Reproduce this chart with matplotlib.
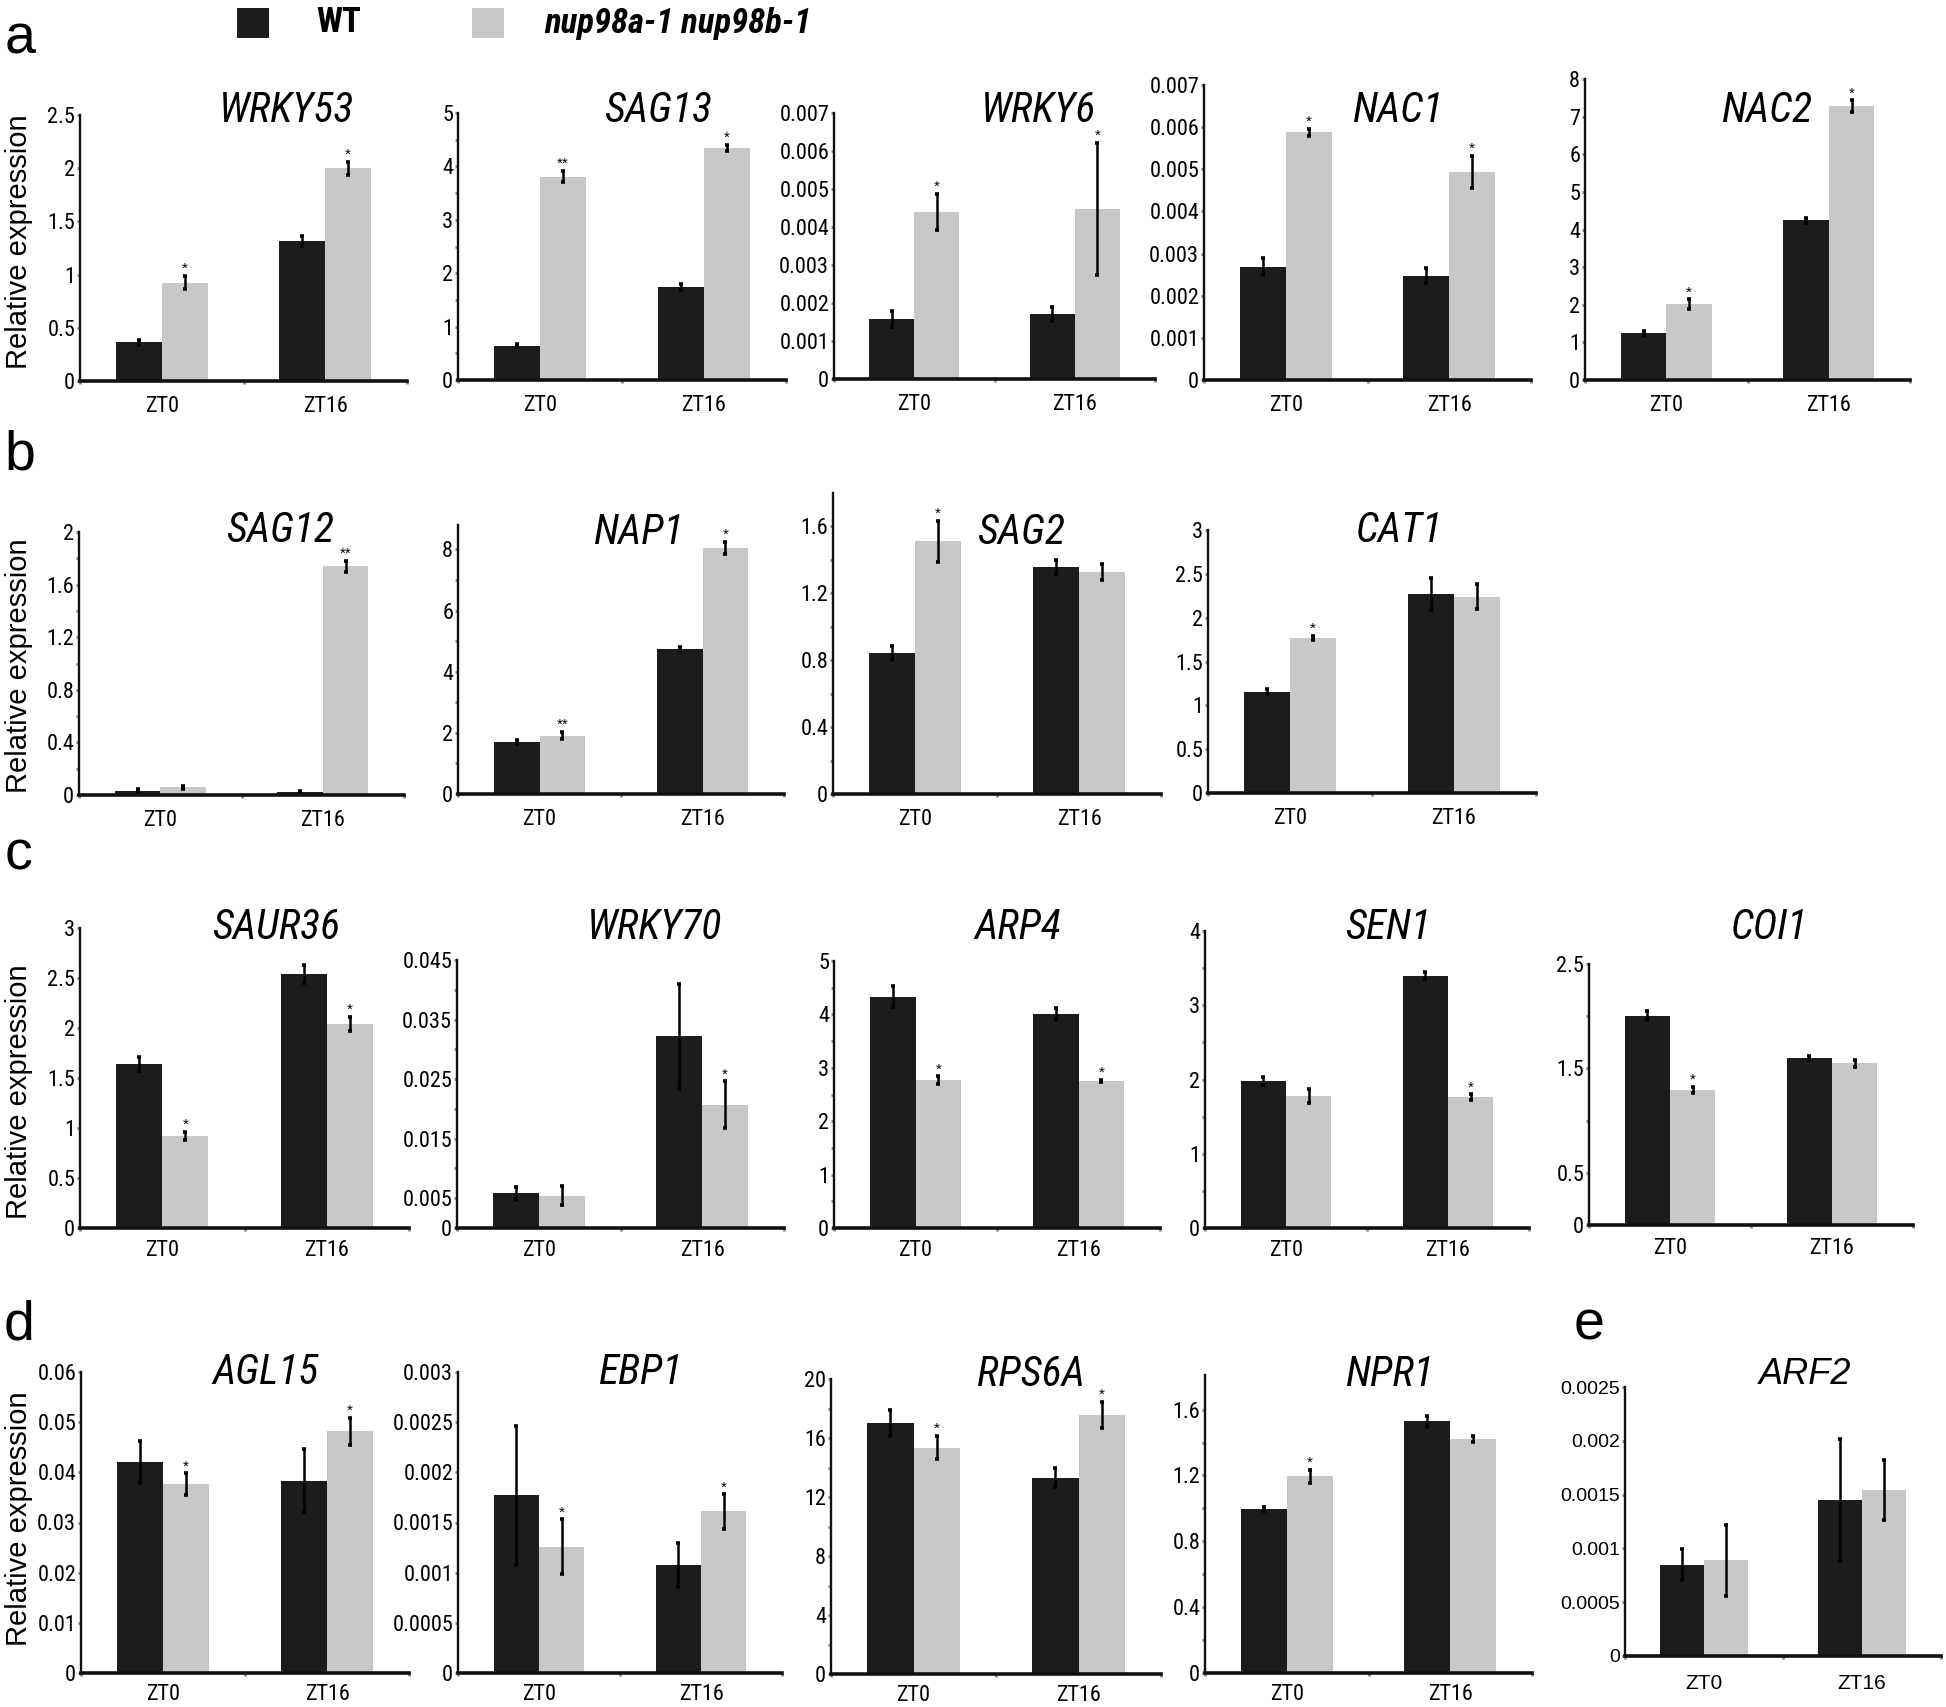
import matplotlib
matplotlib.use('Agg')
import matplotlib.pyplot as plt
from matplotlib import font_manager as fm
from matplotlib.patches import Rectangle
import numpy as np

# ---------------- data ----------------
genes = ['WRKY53', 'SAG13', 'WRKY6', 'NAC1', 'NAC2',
         'SAG12', 'NAP1', 'SAG2', 'CAT1',
         'SAUR36', 'WRKY70', 'ARP4', 'SEN1', 'COI1',
         'AGL15', 'EBP1', 'RPS6A', 'NPR1', 'ARF2']
timepoints = ['ZT0', 'ZT16']
series_names = ['WT', 'nup98a-1 nup98b-1']

wt_zt0 = [0.363, 0.64, 0.00157, 0.00269, 1.24, 0.033, 1.71, 0.843, 1.157,
          1.64, 0.00583, 4.33, 1.98, 2.006, 0.0421, 0.00177, 17.04, 0.996, 0.00085]
wt_zt0_err = [0.02, 0.03, 0.00021, 0.00021, 0.06, 0.01, 0.07, 0.04, 0.025,
              0.07, 0.0011, 0.2, 0.05, 0.04, 0.0042, 0.00069, 0.88, 0.015, 0.00014]
mut_zt0 = [0.924, 3.81, 0.0044, 0.00588, 2.01, 0.058, 1.91, 1.51, 1.77,
           0.92, 0.00544, 2.77, 1.78, 1.29, 0.0376, 0.00126, 15.35, 1.196, 0.00089]
mut_zt0_err = [0.063, 0.11, 0.00047, 0.00008, 0.13, 0.012, 0.11, 0.125, 0.025,
               0.04, 0.0016, 0.07, 0.09, 0.03, 0.0022, 0.00027, 0.79, 0.04, 0.00033]
wt_zt16 = [1.313, 1.74, 0.00171, 0.00247, 4.24, 0.023, 4.75, 1.358, 2.27,
           2.54, 0.0322, 4.01, 3.40, 1.596, 0.0383, 0.00108, 13.32, 1.529, 0.00145]
wt_zt16_err = [0.047, 0.06, 0.00019, 0.00018, 0.06, 0.01, 0.07, 0.043, 0.18,
               0.09, 0.0088, 0.11, 0.05, 0.02, 0.0063, 0.00022, 0.65, 0.033, 0.00057]
mut_zt16 = [2.0, 4.34, 0.00448, 0.00493, 7.27, 1.74, 8.06, 1.327, 2.24,
            2.04, 0.0207, 2.76, 1.76, 1.548, 0.0482, 0.00161, 17.56, 1.422, 0.00154]
mut_zt16_err = [0.06, 0.06, 0.00173, 0.00038, 0.16, 0.043, 0.2, 0.05, 0.14,
                0.07, 0.0039, 0.02, 0.04, 0.03, 0.0027, 0.00017, 0.9, 0.02, 0.00028]
sig_zt0 = ['*', '**', '*', '*', '*', '', '**', '*', '*',
           '*', '', '*', '', '*', '*', '*', '*', '*', '']
sig_zt16 = ['*', '*', '*', '*', '*', '**', '*', '', '',
            '*', '*', '*', '*', '', '*', '*', '*', '', '']

ytick_labels = {
    'WRKY53': ['0', '0.5', '1', '1.5', '2', '2.5'],
    'SAG13': ['0', '1', '2', '3', '4', '5'],
    'WRKY6': ['0', '0.001', '0.002', '0.003', '0.004', '0.005', '0.006', '0.007'],
    'NAC1': ['0', '0.001', '0.002', '0.003', '0.004', '0.005', '0.006', '0.007'],
    'NAC2': ['0', '1', '2', '3', '4', '5', '6', '7', '8'],
    'SAG12': ['0', '0.4', '0.8', '1.2', '1.6', '2'],
    'NAP1': ['0', '2', '4', '6', '8'],
    'SAG2': ['0', '0.4', '0.8', '1.2', '1.6'],
    'CAT1': ['0', '0.5', '1', '1.5', '2', '2.5', '3'],
    'SAUR36': ['0', '0.5', '1', '1.5', '2', '2.5', '3'],
    'WRKY70': ['0', '0.005', '0.015', '0.025', '0.035', '0.045'],
    'ARP4': ['0', '1', '2', '3', '4', '5'],
    'SEN1': ['0', '1', '2', '3', '4'],
    'COI1': ['0', '0.5', '1.5', '2.5'],
    'AGL15': ['0', '0.01', '0.02', '0.03', '0.04', '0.05', '0.06'],
    'EBP1': ['0', '0.0005', '0.001', '0.0015', '0.002', '0.0025', '0.003'],
    'RPS6A': ['0', '4', '8', '12', '16', '20'],
    'NPR1': ['0', '0.4', '0.8', '1.2', '1.6'],
    'ARF2': ['0', '0.0005', '0.001', '0.0015', '0.002', '0.0025'],
}
yminor = {
    'SAG13': [0.5, 1.5, 2.5, 3.5, 4.5],
    'SAG12': [0.2, 0.6, 1.0, 1.4, 1.8],
    'NAP1': [1, 3, 5, 7],
    'SAG2': [0.2, 0.6, 1.0, 1.4],
    'WRKY70': [0.01, 0.02, 0.03, 0.04],
    'ARP4': [0.5, 1.5, 2.5, 3.5, 4.5],
    'SEN1': [0.5, 1.5, 2.5, 3.5],
    'COI1': [1, 2],
    'RPS6A': [2, 6, 10, 14, 18],
    'NPR1': [0.2, 0.6, 1.0, 1.4],
}
ytop = {'NAP1': 8.8, 'SAG2': 1.8, 'NPR1': 1.81}

# ---------------- layout (pixels in 1946x1707 figure) ----------------
W, H, DPI = 1946, 1707, 100
axes_px = {  # x0, x1, y_top, y_zero
    'WRKY53': (80, 407, 115, 381), 'SAG13': (458, 786, 113, 380),
    'WRKY6': (834, 1155, 113, 379), 'NAC1': (1204, 1531, 85, 380),
    'NAC2': (1585, 1910, 79, 380),
    'SAG12': (79, 404, 532, 795), 'NAP1': (458, 784, 525, 794),
    'SAG2': (833, 1161, 493, 794), 'CAT1': (1208, 1536, 530, 793),
    'SAUR36': (80, 409, 928, 1228), 'WRKY70': (457, 784, 960, 1228),
    'ARP4': (834, 1160, 961, 1228), 'SEN1': (1205, 1529, 931, 1228),
    'COI1': (1589, 1913, 964, 1225),
    'AGL15': (81, 409, 1372, 1673), 'EBP1': (458, 782, 1372, 1673),
    'RPS6A': (831, 1161, 1379, 1674), 'NPR1': (1205, 1532, 1375, 1673),
    'ARF2': (1625, 1941, 1387, 1656),
}
title_px = {
    'WRKY53': (287, 110), 'SAG13': (658, 110), 'WRKY6': (1039, 110),
    'NAC1': (1398, 110), 'NAC2': (1767, 110),
    'SAG12': (280, 531), 'NAP1': (638, 532), 'SAG2': (1021, 532), 'CAT1': (1399, 530),
    'SAUR36': (276, 928), 'WRKY70': (655, 928), 'ARP4': (1018, 928),
    'SEN1': (1388, 928), 'COI1': (1769, 928),
    'AGL15': (266, 1373), 'EBP1': (640, 1373), 'RPS6A': (1031, 1375),
    'NPR1': (1389, 1375), 'ARF2': (1805, 1375),
}
xlabel_pad = {'a': 11, 'b': 11, 'c': 9, 'd': 8}
row_of = {g: r for r, gs in {'a': genes[0:5], 'b': genes[5:9], 'c': genes[9:14],
                             'd': genes[14:18]}.items() for g in gs}

# ---------------- fonts ----------------
names = {f.name for f in fm.fontManager.ttflist}
SANS = 'Liberation Sans' if 'Liberation Sans' in names else 'DejaVu Sans'
plt.rcParams['font.family'] = [SANS]

COND_PREF = ['Liberation Sans Narrow', 'Arial Narrow', 'Roboto Condensed',
             'Open Sans Condensed', 'Noto Sans', 'DejaVu Sans', 'Open Sans', 'Roboto']


def is_condensed(f):
    st = str(f.stretch).lower()
    return ('narrow' in f.name.lower() or 'condensed' in f.name.lower()
            or 'condensed' in st or 'narrow' in f.fname.lower()
            or 'condensed' in f.fname.lower())


def find_condensed(italic=False, bold=False):
    best, best_score = None, None
    for f in fm.fontManager.ttflist:
        if not is_condensed(f):
            continue
        fit = f.style in ('italic', 'oblique')
        w = f.weight if isinstance(f.weight, int) else (700 if 'bold' in str(f.weight) else 400)
        fbold = w >= 600
        if fit != italic or fbold != bold:
            continue
        if 'extra' in f.fname.lower() or 'ultra' in f.fname.lower():
            continue
        score = len(COND_PREF)
        for k, p in enumerate(COND_PREF):
            if f.name.startswith(p):
                score = k
                break
        if best_score is None or score < best_score:
            best, best_score = f, score
    return best.fname if best is not None else None


c_reg = find_condensed(False, False)
c_it = find_condensed(True, False)
c_bold = find_condensed(False, True)
c_bit = find_condensed(True, True)


def fp(kind, size):
    path = {'reg': c_reg, 'it': c_it, 'bold': c_bold, 'bit': c_bit}[kind]
    if path is not None:
        return fm.FontProperties(fname=path, size=size)
    style = 'italic' if kind in ('it', 'bit') else 'normal'
    weight = 'bold' if kind in ('bold', 'bit') else 'normal'
    return fm.FontProperties(family=SANS, style=style, weight=weight, size=size)


TITLE_SIZE = 30 if c_it else 25.5
LEG_SIZE = 25 if c_bit else 20
TICK_SIZE = 16 if c_reg else 15
ZT_SIZE = 16 if c_reg else 15

BLACK = '#1c1c1a'
GREY = '#c8c8c8'
BW = 0.28

fig = plt.figure(figsize=(W / DPI, H / DPI), dpi=DPI)
fig.patch.set_facecolor('white')


def fx(px):
    return px / W


def fy(py):
    return 1 - py / H


for i, g in enumerate(genes):
    x0, x1, yt, y0 = axes_px[g]
    ax = fig.add_axes([fx(x0), fy(y0), (x1 - x0) / W, (y0 - yt) / H])
    xs = np.arange(len(timepoints))
    wt = [wt_zt0[i], wt_zt16[i]]
    wte = [wt_zt0_err[i], wt_zt16_err[i]]
    mu = [mut_zt0[i], mut_zt16[i]]
    mue = [mut_zt0_err[i], mut_zt16_err[i]]
    sig = [sig_zt0[i], sig_zt16[i]]
    ax.bar(xs - BW / 2, wt, BW, color=BLACK, zorder=2)
    ax.bar(xs + BW / 2, mu, BW, color=GREY, zorder=2)
    for xx, v, e in list(zip(xs - BW / 2, wt, wte)) + list(zip(xs + BW / 2, mu, mue)):
        ax.errorbar([xx], [v], yerr=[e], fmt='none', ecolor='black',
                    elinewidth=1.8, capsize=1.6, capthick=2.6, zorder=3)
    for xx, v, e, s in zip(xs + BW / 2, mu, mue, sig):
        if s:
            ax.annotate(s, (xx, v + e), xytext=(0, 0), textcoords='offset points',
                        ha='center', va='bottom', fontsize=11, family=SANS)
    labels = ytick_labels[g]
    ticks = [float(t) for t in labels]
    top = ytop.get(g, max(ticks))
    ax.set_ylim(0, top)
    ax.set_xlim(-0.5, 1.5)
    ax.set_yticks(ticks)
    if g == 'ARF2':
        tprop = fm.FontProperties(family=SANS, size=14)
        zprop = fm.FontProperties(family=SANS, size=15)
        ttl = fm.FontProperties(family=SANS, style='italic', size=26)
        pad = 13
    else:
        tprop = fp('reg', TICK_SIZE)
        zprop = fp('reg', ZT_SIZE)
        ttl = fp('it', TITLE_SIZE)
        pad = xlabel_pad[row_of[g]]
    ax.set_yticklabels(labels, fontproperties=tprop)
    if g in yminor:
        ax.set_yticks(yminor[g], minor=True)
    ax.set_xticks(xs)
    ax.set_xticklabels(timepoints, fontproperties=zprop)
    ax.set_xticks([-0.5, 0.5, 1.5], minor=True)
    ax.tick_params(axis='x', which='major', length=0, pad=pad)
    ax.tick_params(axis='x', which='minor', length=2.5, width=2, color='#888888')
    ax.tick_params(axis='y', which='both', length=2.5, width=2, color='#888888', pad=1)
    for sp in ['top', 'right']:
        ax.spines[sp].set_visible(False)
    ax.spines['left'].set_linewidth(1.7)
    ax.spines['left'].set_color('#111111')
    ax.spines['bottom'].set_linewidth(2.6)
    ax.spines['bottom'].set_color('#111111')
    ax.spines['bottom'].set_zorder(4)
    ax.set_facecolor('none')
    cx, cy = title_px[g]
    fig.text(fx(cx), fy(cy), g, ha='center', va='center', fontproperties=ttl)

# row labels
for yc in [242, 666, 1092, 1519]:
    fig.text(fx(19), fy(yc), 'Relative expression', rotation=90, ha='center',
             va='center', fontsize=21, family=SANS)

# panel letters
for letter, (px, py) in {'a': (5, 53), 'b': (4, 470), 'c': (5, 869),
                         'd': (4, 1340), 'e': (1574, 1340)}.items():
    fig.text(fx(px), fy(py), letter, ha='left', va='baseline', fontsize=40, family=SANS)

# legend
fig.patches.append(Rectangle((fx(237), fy(38)), 32 / W, 30 / H, transform=fig.transFigure,
                             facecolor=BLACK, edgecolor='none'))
fig.text(fx(316), fy(23), series_names[0], ha='left', va='center',
         fontproperties=fp('bold', LEG_SIZE))
fig.patches.append(Rectangle((fx(472), fy(38)), 32 / W, 30 / H, transform=fig.transFigure,
                             facecolor=GREY, edgecolor='none'))
fig.text(fx(544), fy(23), series_names[1], ha='left', va='center',
         fontproperties=fp('bit', LEG_SIZE))

fig.savefig('out.png', dpi=DPI, facecolor='white')
